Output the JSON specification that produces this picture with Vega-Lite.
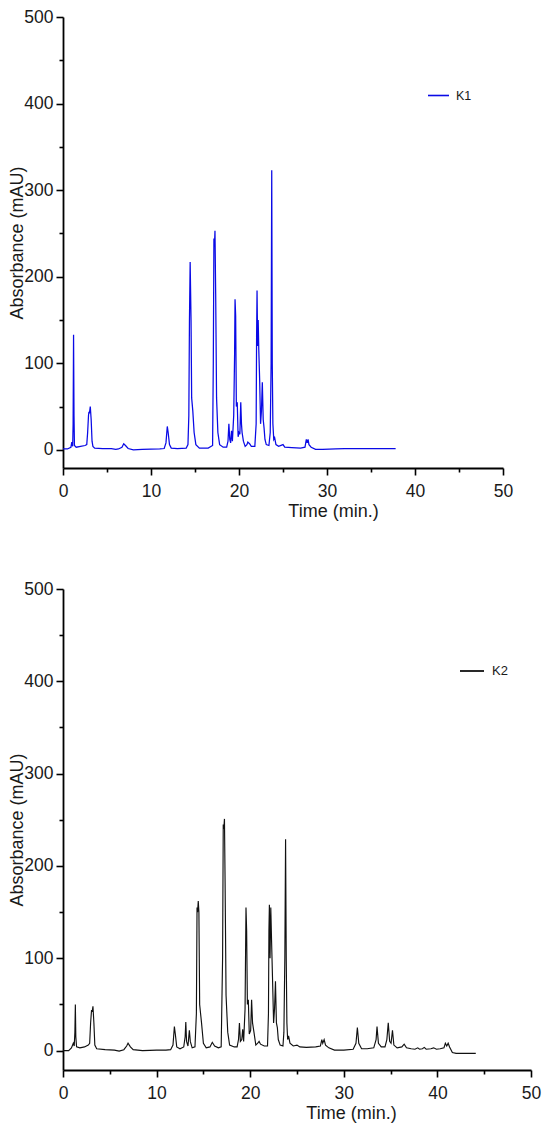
{
  "$schema": "https://vega.github.io/schema/vega-lite/v6.json",
  "background": "white",
  "padding": {"left": 8, "top": 8, "right": 10, "bottom": 5},
  "spacing": 59,
  "config": {
    "view": {"stroke": null},
    "font": "Liberation Sans",
    "axis": {
      "grid": false,
      "ticks": true,
      "domainColor": "#000",
      "domainWidth": 1.8,
      "tickColor": "#000",
      "tickWidth": 1.6,
      "labelFont": "Liberation Sans",
      "labelFontSize": 17.5,
      "labelColor": "#1a1a1a",
      "titleFont": "Liberation Sans",
      "titleFontSize": 18,
      "titleFontWeight": "normal",
      "titleColor": "#1a1a1a"
    },
    "legend": {
      "labelFont": "Liberation Sans",
      "labelColor": "#1a1a1a",
      "symbolType": "stroke",
      "padding": 0
    }
  },
  "datasets": {
    "k1": [
      {"t":0,"a":1},{"t":0.5,"a":1},{"t":0.9,"a":3},{"t":1.0,"a":9},{"t":1.05,"a":6},{"t":1.1,"a":4},
      {"t":1.15,"a":30},{"t":1.2,"a":133},{"t":1.25,"a":40},{"t":1.3,"a":5},{"t":1.5,"a":3},{"t":2.0,"a":4},
      {"t":2.5,"a":5},{"t":2.7,"a":6},{"t":2.8,"a":20},{"t":2.9,"a":40},{"t":2.95,"a":44},{"t":3.0,"a":42},
      {"t":3.1,"a":50},{"t":3.2,"a":35},{"t":3.3,"a":10},{"t":3.4,"a":4},{"t":3.6,"a":2},{"t":4.5,"a":1.5},
      {"t":5.5,"a":1.5},{"t":6.0,"a":0.5},{"t":6.3,"a":1},{"t":6.7,"a":3},{"t":6.9,"a":7},{"t":7.1,"a":5},
      {"t":7.4,"a":1.5},{"t":8.0,"a":0},{"t":9.0,"a":0.5},{"t":10.0,"a":0.8},{"t":11.0,"a":1},{"t":11.5,"a":1.5},
      {"t":11.7,"a":8},{"t":11.85,"a":27},{"t":11.95,"a":20},{"t":12.1,"a":6},{"t":12.3,"a":2},{"t":13.0,"a":1.5},
      {"t":14.0,"a":2},{"t":14.2,"a":6},{"t":14.3,"a":40},{"t":14.37,"a":150},{"t":14.45,"a":217},{"t":14.55,"a":150},
      {"t":14.62,"a":60},{"t":14.75,"a":45},{"t":14.9,"a":20},{"t":15.1,"a":6},{"t":15.5,"a":2},{"t":16.5,"a":2},
      {"t":17.0,"a":5},{"t":17.08,"a":100},{"t":17.15,"a":244},{"t":17.22,"a":238},{"t":17.27,"a":253},{"t":17.35,"a":180},
      {"t":17.45,"a":60},{"t":17.6,"a":20},{"t":17.8,"a":6},{"t":18.2,"a":3},{"t":18.6,"a":3},{"t":18.75,"a":10},
      {"t":18.85,"a":30},{"t":18.95,"a":12},{"t":19.05,"a":8},{"t":19.15,"a":22},{"t":19.25,"a":10},{"t":19.4,"a":40},
      {"t":19.5,"a":110},{"t":19.55,"a":174},{"t":19.62,"a":155},{"t":19.7,"a":50},{"t":19.8,"a":55},{"t":19.9,"a":15},
      {"t":20.0,"a":20},{"t":20.1,"a":18},{"t":20.2,"a":55},{"t":20.28,"a":30},{"t":20.35,"a":20},{"t":20.5,"a":10},
      {"t":20.7,"a":4},{"t":20.9,"a":6},{"t":21.0,"a":9},{"t":21.2,"a":7},{"t":21.4,"a":4},{"t":21.8,"a":4},
      {"t":21.95,"a":30},{"t":22.0,"a":130},{"t":22.05,"a":184},{"t":22.12,"a":120},{"t":22.18,"a":150},{"t":22.25,"a":115},
      {"t":22.35,"a":80},{"t":22.45,"a":30},{"t":22.55,"a":45},{"t":22.65,"a":78},{"t":22.75,"a":35},{"t":22.85,"a":25},
      {"t":22.95,"a":12},{"t":23.1,"a":6},{"t":23.4,"a":5},{"t":23.55,"a":20},{"t":23.65,"a":100},{"t":23.72,"a":323},
      {"t":23.78,"a":100},{"t":23.85,"a":30},{"t":23.95,"a":12},{"t":24.05,"a":14},{"t":24.2,"a":6},{"t":24.5,"a":4},
      {"t":25.0,"a":6},{"t":25.2,"a":3},{"t":26.0,"a":2.5},{"t":27.0,"a":2},{"t":27.5,"a":3},{"t":27.65,"a":12},
      {"t":27.75,"a":8},{"t":27.85,"a":12},{"t":27.95,"a":6},{"t":28.2,"a":3},{"t":28.7,"a":0.5},{"t":29.5,"a":0.5},
      {"t":31.0,"a":1},{"t":32.0,"a":1.5},{"t":35.0,"a":1.5},{"t":37.8,"a":1.5}
    ],
    "k2": [
      {"t":0,"a":0},{"t":0.6,"a":0},{"t":0.9,"a":3},{"t":1.1,"a":8},{"t":1.2,"a":5},{"t":1.27,"a":20},
      {"t":1.32,"a":50},{"t":1.37,"a":15},{"t":1.45,"a":4},{"t":1.8,"a":3},{"t":2.3,"a":4},{"t":2.7,"a":6},
      {"t":2.85,"a":8},{"t":2.95,"a":30},{"t":3.05,"a":44},{"t":3.12,"a":42},{"t":3.2,"a":48},{"t":3.3,"a":30},
      {"t":3.4,"a":6},{"t":3.6,"a":2},{"t":4.5,"a":1},{"t":5.5,"a":0.5},{"t":6.0,"a":-0.5},{"t":6.5,"a":1},
      {"t":6.8,"a":5},{"t":6.95,"a":8},{"t":7.2,"a":4},{"t":7.5,"a":1},{"t":8.5,"a":0},{"t":10.0,"a":0.5},
      {"t":11.0,"a":0.5},{"t":11.5,"a":1},{"t":11.75,"a":6},{"t":11.9,"a":26},{"t":12.0,"a":18},{"t":12.15,"a":4},
      {"t":12.5,"a":2},{"t":12.9,"a":4},{"t":13.05,"a":15},{"t":13.12,"a":31},{"t":13.2,"a":10},{"t":13.35,"a":5},
      {"t":13.5,"a":22},{"t":13.6,"a":10},{"t":13.8,"a":3},{"t":14.1,"a":4},{"t":14.25,"a":40},{"t":14.32,"a":155},
      {"t":14.38,"a":150},{"t":14.45,"a":162},{"t":14.52,"a":150},{"t":14.6,"a":50},{"t":14.8,"a":30},{"t":15.0,"a":8},
      {"t":15.3,"a":3},{"t":15.7,"a":4},{"t":15.95,"a":9},{"t":16.2,"a":5},{"t":16.6,"a":3},{"t":16.9,"a":4},
      {"t":17.05,"a":100},{"t":17.12,"a":245},{"t":17.18,"a":240},{"t":17.25,"a":251},{"t":17.32,"a":180},{"t":17.42,"a":60},
      {"t":17.6,"a":20},{"t":17.8,"a":6},{"t":18.3,"a":4},{"t":18.6,"a":4},{"t":18.75,"a":12},{"t":18.85,"a":30},
      {"t":18.95,"a":10},{"t":19.1,"a":12},{"t":19.2,"a":23},{"t":19.3,"a":10},{"t":19.45,"a":45},{"t":19.55,"a":155},
      {"t":19.62,"a":130},{"t":19.7,"a":50},{"t":19.8,"a":55},{"t":19.9,"a":18},{"t":20.05,"a":22},{"t":20.15,"a":55},
      {"t":20.25,"a":30},{"t":20.4,"a":20},{"t":20.6,"a":6},{"t":20.8,"a":8},{"t":20.95,"a":10},{"t":21.1,"a":7},
      {"t":21.5,"a":5},{"t":21.85,"a":5},{"t":21.95,"a":40},{"t":22.0,"a":130},{"t":22.05,"a":158},{"t":22.12,"a":100},
      {"t":22.2,"a":155},{"t":22.28,"a":120},{"t":22.38,"a":80},{"t":22.5,"a":30},{"t":22.6,"a":45},{"t":22.7,"a":75},
      {"t":22.8,"a":30},{"t":22.9,"a":25},{"t":23.0,"a":12},{"t":23.2,"a":6},{"t":23.5,"a":5},{"t":23.6,"a":20},
      {"t":23.7,"a":100},{"t":23.78,"a":229},{"t":23.85,"a":100},{"t":23.92,"a":30},{"t":24.0,"a":12},{"t":24.1,"a":16},
      {"t":24.25,"a":8},{"t":24.6,"a":5},{"t":25.0,"a":6},{"t":25.3,"a":4},{"t":26.0,"a":3.5},{"t":27.0,"a":4},
      {"t":27.5,"a":5},{"t":27.65,"a":12},{"t":27.75,"a":8},{"t":27.9,"a":12},{"t":28.05,"a":6},{"t":28.4,"a":3},
      {"t":29.0,"a":0.5},{"t":30.0,"a":0.5},{"t":31.0,"a":1.5},{"t":31.3,"a":8},{"t":31.45,"a":25},{"t":31.6,"a":8},
      {"t":31.9,"a":2},{"t":32.5,"a":2},{"t":33.2,"a":3},{"t":33.45,"a":12},{"t":33.55,"a":26},{"t":33.7,"a":8},
      {"t":34.0,"a":4},{"t":34.4,"a":4},{"t":34.6,"a":12},{"t":34.75,"a":30},{"t":34.9,"a":10},{"t":35.05,"a":8},
      {"t":35.2,"a":22},{"t":35.35,"a":6},{"t":35.7,"a":3},{"t":36.2,"a":4},{"t":36.45,"a":7},{"t":36.7,"a":3},
      {"t":37.2,"a":2},{"t":37.6,"a":1.5},{"t":37.9,"a":3},{"t":38.1,"a":1.5},{"t":38.4,"a":2},{"t":38.6,"a":3.5},
      {"t":38.8,"a":1.5},{"t":39.3,"a":2},{"t":39.6,"a":3},{"t":39.9,"a":1.5},{"t":40.3,"a":2},{"t":40.7,"a":3},
      {"t":40.85,"a":8},{"t":41.0,"a":5},{"t":41.15,"a":8},{"t":41.3,"a":4},{"t":41.6,"a":-2},{"t":42.0,"a":-3},
      {"t":44.1,"a":-3}
    ]
  },
  "vconcat": [
    {
      "width": 440,
      "height": 451,
      "data": {"name": "k1"},
      "mark": {"type": "line", "strokeWidth": 1.25},
      "encoding": {
        "x": {
          "field": "t",
          "type": "quantitative",
          "scale": {"domain": [0, 50], "nice": false, "zero": false},
          "axis": {
            "title": "Time (min.)",
            "values": [0, 5, 10, 15, 20, 25, 30, 35, 40, 45, 50],
            "labelExpr": "datum.value % 10 === 0 ? datum.label : ''",
            "tickSize": {"condition": {"test": "datum.value % 10 === 0", "value": 7}, "value": 4},
            "labelPadding": 7,
            "labelFlush": false,
            "titlePadding": 3,
            "titleX": 270
          }
        },
        "y": {
          "field": "a",
          "type": "quantitative",
          "scale": {"domain": [-21, 500], "nice": false, "zero": false},
          "axis": {
            "title": "Absorbance (mAU)",
            "values": [0, 50, 100, 150, 200, 250, 300, 350, 400, 450, 500],
            "labelExpr": "datum.value % 100 === 0 ? datum.label : ''",
            "tickSize": {"condition": {"test": "datum.value % 100 === 0", "value": 7}, "value": 4},
            "labelPadding": 3,
            "labelFlush": false,
            "titlePadding": -3
          }
        },
        "color": {
          "datum": "K1",
          "scale": {"range": ["#0a0ae6"]},
          "legend": {
            "title": null,
            "orient": "none",
            "legendX": 364,
            "legendY": 67,
            "symbolSize": 441,
            "symbolStrokeWidth": 1.6,
            "labelFontSize": 12.5,
            "labelOffset": 6
          }
        }
      }
    },
    {
      "width": 468,
      "height": 481,
      "data": {"name": "k2"},
      "mark": {"type": "line", "strokeWidth": 1.15},
      "encoding": {
        "x": {
          "field": "t",
          "type": "quantitative",
          "scale": {"domain": [0, 50], "nice": false, "zero": false},
          "axis": {
            "title": "Time (min.)",
            "values": [0, 5, 10, 15, 20, 25, 30, 35, 40, 45, 50],
            "labelExpr": "datum.value % 10 === 0 ? datum.label : ''",
            "tickSize": {"condition": {"test": "datum.value % 10 === 0", "value": 7}, "value": 4},
            "labelPadding": 7,
            "labelFlush": false,
            "titlePadding": 3,
            "titleX": 288
          }
        },
        "y": {
          "field": "a",
          "type": "quantitative",
          "scale": {"domain": [-21, 500], "nice": false, "zero": false},
          "axis": {
            "title": "Absorbance (mAU)",
            "values": [0, 50, 100, 150, 200, 250, 300, 350, 400, 450, 500],
            "labelExpr": "datum.value % 100 === 0 ? datum.label : ''",
            "tickSize": {"condition": {"test": "datum.value % 100 === 0", "value": 7}, "value": 4},
            "labelPadding": 3,
            "labelFlush": false,
            "titlePadding": -3
          }
        },
        "color": {
          "datum": "K2",
          "scale": {"range": ["#111111"]},
          "legend": {
            "title": null,
            "orient": "none",
            "legendX": 396,
            "legendY": 69,
            "symbolSize": 576,
            "symbolStrokeWidth": 1.8,
            "labelFontSize": 13,
            "labelOffset": 7
          }
        }
      }
    }
  ],
  "resolve": {
    "scale": {"x": "independent", "y": "independent", "color": "independent"},
    "legend": {"color": "independent"}
  }
}
